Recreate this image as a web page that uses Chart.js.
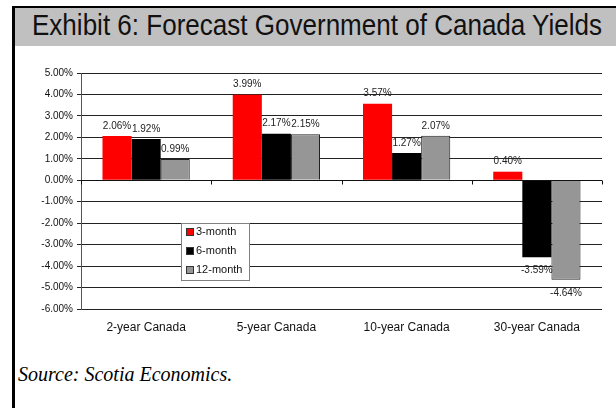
<!DOCTYPE html>
<html>
<head>
<meta charset="utf-8">
<script src="https://cdn.jsdelivr.net/npm/chart.js@4.4.1/dist/chart.umd.min.js"></script>
<style>
  html, body { margin: 0; padding: 0; background: #fff; }
  body { width: 616px; height: 408px; position: relative; overflow: hidden; }
  #frame {
    position: absolute; left: 12px; top: 6px; right: 0; bottom: 0;
    border-top: 2px solid #000; border-left: 3px solid #000;
  }
  #header {
    position: absolute; left: 0; top: 0; right: 0; height: 38px;
    background: #c0c0c0;
  }
  #title {
    position: absolute; left: 17px; top: 1px; white-space: nowrap;
    font-family: "Liberation Sans Narrow", "Arial Narrow", "Liberation Sans", Arial, sans-serif;
    font-size: 29px; color: #111; transform-origin: left top;
  }
  #source {
    position: absolute; left: 18px; top: 363px;
    font-family: "Liberation Serif", "Times New Roman", serif;
    font-style: italic; font-size: 20px; color: #000;
  }
  #chartBox { position: absolute; left: 0; top: 0; width: 616px; height: 408px; }
</style>
</head>
<body>
<div id="frame"><div id="header"><div id="title">Exhibit 6: Forecast Government of Canada Yields</div></div></div>
<div id="source">Source: Scotia Economics.</div>
<div id="chartBox"><canvas id="yieldChart" width="616" height="408"></canvas></div>

<script>
// Forecast change in yields (%), by horizon
const categories = ["2-year Canada", "5-year Canada", "10-year Canada", "30-year Canada"];
const seriesNames = ["3-month", "6-month", "12-month"];
const threeMonth = [2.06, 3.99, 3.57, 0.40];
const sixMonth = [1.92, 2.17, 1.27, -3.59];
const twelveMonth = [0.99, 2.15, 2.07, -4.64];
const yMin = -6;
const yMax = 5;

const FONT = "'Liberation Sans', Arial, sans-serif";

// stretch the narrow title to the header width
const title = document.getElementById("title");
const titleWidth = title.getBoundingClientRect().width;
title.style.transform = "scaleX(" + (570 / titleWidth) + ")";

// value labels at the end of each bar
const barLabels = {
  id: "barLabels",
  afterDatasetsDraw(chart) {
    const ctx = chart.ctx;
    ctx.save();
    ctx.font = "10px " + FONT;
    ctx.fillStyle = "#222";
    ctx.textAlign = "center";
    ctx.textBaseline = "middle";
    chart.data.datasets.forEach((ds, i) => {
      chart.getDatasetMeta(i).data.forEach((bar, j) => {
        const v = ds.data[j];
        const y = v >= 0 ? bar.y - 10 : bar.y + 13;
        ctx.fillText(v.toFixed(2) + "%", bar.x, y);
      });
    });
    ctx.restore();
  }
};

// axis line at zero with category tick marks
const zeroAxis = {
  id: "zeroAxis",
  afterDatasetsDraw(chart) {
    const { ctx, scales: { x, y } } = chart;
    const y0 = Math.round(y.getPixelForValue(0)) + 0.5;
    ctx.save();
    ctx.strokeStyle = "#111";
    ctx.lineWidth = 1;
    ctx.beginPath();
    ctx.moveTo(x.left, y0);
    ctx.lineTo(x.right, y0);
    const step = (x.right - x.left) / categories.length;
    for (let i = 0; i <= categories.length; i++) {
      const px = Math.round(x.left + i * step) + 0.5;
      ctx.moveTo(px, y0);
      ctx.lineTo(px, y0 + 4);
    }
    ctx.stroke();
    ctx.restore();
  }
};

// boxed legend sitting inside the plot
const boxLegend = {
  id: "boxLegend",
  afterDraw(chart) {
    const ctx = chart.ctx;
    const left = 181, top = 223, w = 68, h = 57;
    ctx.save();
    ctx.fillStyle = "#fff";
    ctx.fillRect(left, top, w, h);
    ctx.strokeStyle = "#808080";
    ctx.lineWidth = 1;
    ctx.strokeRect(left + 0.5, top + 0.5, w, h);
    ctx.font = "11px " + FONT;
    ctx.textBaseline = "middle";
    chart.data.datasets.forEach((ds, i) => {
      const cy = top + 9 + i * 19;
      ctx.fillStyle = ds.backgroundColor;
      ctx.fillRect(left + 5, cy - 4, 8, 8);
      ctx.strokeStyle = "#333";
      ctx.strokeRect(left + 5.5, cy - 3.5, 7, 7);
      ctx.fillStyle = "#111";
      ctx.fillText(ds.label, left + 15, cy);
    });
    ctx.restore();
  }
};

new Chart(document.getElementById("yieldChart"), {
  type: "bar",
  data: {
    labels: categories,
    datasets: [
      { label: seriesNames[0], data: threeMonth, backgroundColor: "#ff0000", borderColor: "#ff0000", borderWidth: 0 },
      { label: seriesNames[1], data: sixMonth, backgroundColor: "#000000", borderColor: "#000000", borderWidth: 0 },
      { label: seriesNames[2], data: twelveMonth, backgroundColor: "#969696", borderColor: "#222", borderWidth: 1 }
    ]
  },
  options: {
    responsive: false,
    animation: false,
    devicePixelRatio: 1,
    layout: { padding: { top: 73, right: 14, bottom: 0, left: 0 } },
    categoryPercentage: 0.67,
    barPercentage: 1.0,
    plugins: {
      legend: { display: false },
      tooltip: { enabled: false }
    },
    scales: {
      x: {
        grid: { display: false, drawTicks: false },
        border: { display: false },
        ticks: { color: "#111", font: { family: FONT, size: 12 }, padding: 11, maxRotation: 0 },
        afterFit: s => { s.height = 99; }
      },
      y: {
        min: yMin,
        max: yMax,
        grid: { color: "#222", lineWidth: 1, tickLength: 4 },
        border: { color: "#555", width: 1 },
        ticks: {
          stepSize: 1,
          color: "#111",
          padding: 4,
          font: { family: FONT, size: 10 },
          callback: v => v.toFixed(2) + "%"
        },
        afterFit: s => { s.width = 81; }
      }
    }
  },
  plugins: [barLabels, zeroAxis, boxLegend]
});
</script>
</body>
</html>
